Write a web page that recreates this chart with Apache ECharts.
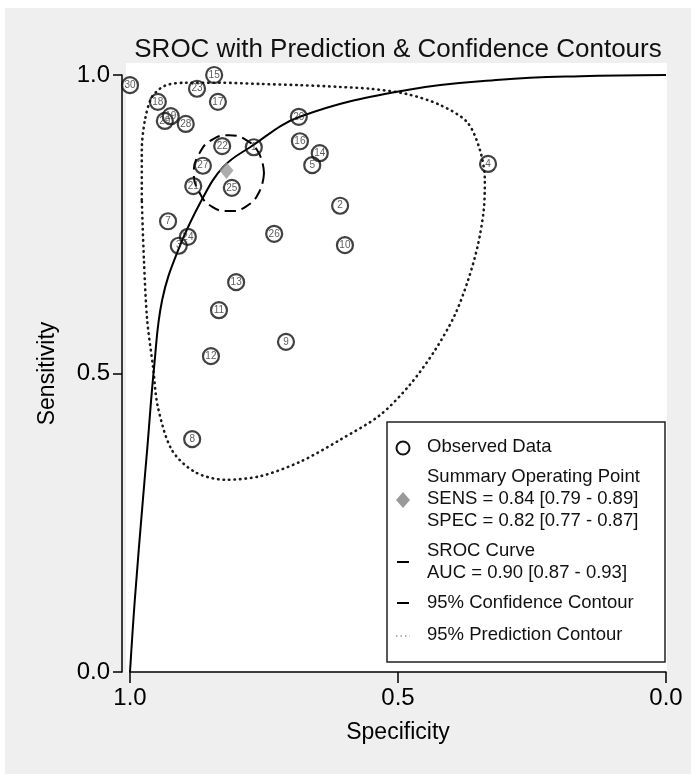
<!DOCTYPE html>
<html>
<head>
<meta charset="utf-8">
<title>SROC with Prediction & Confidence Contours</title>
<script src="https://cdn.jsdelivr.net/npm/echarts@6/dist/echarts.min.js"></script>
<style>
  html, body { margin: 0; padding: 0; background: #ffffff; }
  #chart { width: 691px; height: 774px; }
</style>
</head>
<body>
<div id="chart"></div>
<script>
// Individual studies: id, specificity, sensitivity
const studyIds  = ['30','15','23','18','17','19','29','28','20','16','22','1','14','5','4','27','21','25','2','7','26','24','10','3','13','11','9','12','8'];
const studySpec = [1.000,0.843,0.875,0.948,0.836,0.924,0.935,0.896,0.685,0.683,0.828,0.769,0.646,0.660,0.332,0.864,0.882,0.810,0.608,0.929,0.731,0.892,0.599,0.909,0.802,0.834,0.709,0.849,0.884];
const studySens = [0.983,1.000,0.977,0.955,0.955,0.931,0.923,0.918,0.930,0.889,0.881,0.879,0.869,0.849,0.851,0.848,0.814,0.811,0.781,0.755,0.734,0.729,0.715,0.714,0.653,0.606,0.553,0.529,0.390];

// Summary operating point with 95% CI
const summarySens = [0.84, 0.79, 0.89];
const summarySpec = [0.82, 0.77, 0.87];
const aucValues   = [0.90, 0.87, 0.93];

// SROC curve (specificity, sensitivity)
const srocSpec = [1.000,0.991,0.976,0.968,0.955,0.940,0.910,0.866,0.826,0.776,0.683,0.483,0.310,0.160,0.000];
const srocSens = [0.000,0.121,0.288,0.372,0.511,0.623,0.707,0.791,0.846,0.879,0.930,0.975,0.992,0.998,1.000];

// 95% confidence contour around the summary point
const confSpec = [0.750,0.759,0.783,0.815,0.848,0.871,0.881,0.871,0.848,0.815,0.783,0.759,0.750];
const confSens = [0.836,0.804,0.780,0.772,0.780,0.804,0.836,0.868,0.891,0.899,0.891,0.868,0.836];

// 95% prediction contour
const predSpec = [0.978,0.978,0.972,0.959,0.935,0.897,0.832,0.757,0.683,0.608,0.552,0.483,0.422,0.371,0.347,0.338,0.340,0.351,0.369,0.394,0.431,0.478,0.534,0.608,0.683,0.757,0.823,0.879,0.922,0.948,0.957,0.968,0.974,0.978];
const predSens = [0.791,0.874,0.925,0.963,0.982,0.987,0.987,0.985,0.983,0.980,0.977,0.968,0.950,0.921,0.874,0.824,0.774,0.715,0.657,0.598,0.539,0.481,0.430,0.389,0.352,0.328,0.322,0.335,0.372,0.444,0.511,0.590,0.690,0.791];

// Axis ticks
const tickValues = [0, 0.5, 1];

const FONT = '"Liberation Sans", Arial, Helvetica, sans-serif';
const zip = (xs, ys) => xs.map((x, i) => [x, ys[i]]);
const fmt = v => v.toFixed(2);

const chart = echarts.init(document.getElementById('chart'), null, { renderer: 'canvas' });

const legendX = 427, symX = 403;
const legendFont = { fontFamily: FONT, fontSize: 18.5, fill: '#111' };
const legendText = (text, y) => ({
  type: 'text', left: legendX, top: y - 11, z: 110,
  style: Object.assign({ text: text }, legendFont)
});

const option = {
  backgroundColor: 'transparent',
  animation: false,
  grid: { left: 130, right: 25, top: 75, bottom: 102, containLabel: false },
  xAxis: {
    type: 'value', min: 0, max: 1, interval: 0.5, inverse: true,
    axisLine: { show: true, onZero: false, lineStyle: { color: '#000', width: 1.5 } },
    axisTick: { show: true, length: 11, lineStyle: { color: '#000', width: 1.5 } },
    axisLabel: { fontSize: 24, color: '#000', fontFamily: FONT, margin: 14,
                 formatter: v => tickValues.includes(v) ? v.toFixed(1) : '' },
    splitLine: { show: false },
    name: 'Specificity', nameLocation: 'middle', nameGap: 49,
    nameTextStyle: { fontSize: 23, color: '#000', fontFamily: FONT }
  },
  yAxis: {
    type: 'value', min: 0, max: 1, interval: 0.5, offset: 8, position: 'left',
    axisLine: { show: true, onZero: false, lineStyle: { color: '#000', width: 1.5 } },
    axisTick: { show: true, length: 9, lineStyle: { color: '#000', width: 1.5 } },
    axisLabel: { fontSize: 24, color: '#000', fontFamily: FONT, margin: 12,
                 formatter: v => tickValues.includes(v) ? v.toFixed(1) : '' },
    splitLine: { show: false },
    name: 'Sensitivity', nameLocation: 'middle', nameGap: 63, nameRotate: 90,
    nameTextStyle: { fontSize: 23, color: '#000', fontFamily: FONT }
  },
  series: [
    {
      name: '95% Prediction Contour', type: 'line', data: zip(predSpec, predSens),
      showSymbol: false, smooth: 0.3, z: 3,
      lineStyle: { color: '#1a1a1a', width: 2.6, type: [0.5, 5], cap: 'round' }
    },
    {
      name: 'SROC Curve', type: 'line', data: zip(srocSpec, srocSens),
      showSymbol: false, smooth: 0.4, z: 4,
      lineStyle: { color: '#000', width: 2 }
    },
    {
      name: '95% Confidence Contour', type: 'line', data: zip(confSpec, confSens),
      showSymbol: false, smooth: 0.5, z: 4,
      lineStyle: { color: '#000', width: 2, type: [11, 6] }
    },
    {
      name: 'Observed Data', type: 'scatter', z: 5,
      data: studyIds.map((id, i) => ({ name: id, value: [studySpec[i], studySens[i]] })),
      symbol: 'circle', symbolSize: 16,
      itemStyle: { color: 'rgba(255,255,255,0)', borderColor: '#111', borderWidth: 2.2 },
      label: { show: true, position: 'inside', formatter: p => p.name,
               fontSize: 10, color: '#333', fontFamily: FONT }
    },
    {
      name: 'Summary Operating Point', type: 'scatter', z: 6,
      data: [[summarySpec[0], summarySens[0]]],
      symbol: 'diamond', symbolSize: [14, 17],
      itemStyle: { color: '#999999' }
    }
  ],
  graphic: [
    // page panel and plot region
    { type: 'rect', z: -10, shape: { x: 5, y: 8, width: 686, height: 766 }, style: { fill: '#efefef' } },
    { type: 'rect', z: -9, shape: { x: 126, y: 63, width: 541, height: 609 }, style: { fill: '#ffffff' } },
    // title
    { type: 'text', z: 10, x: 398, y: 50,
      style: { text: 'SROC with Prediction & Confidence Contours', fontFamily: FONT, fontSize: 26,
               fill: '#111', align: 'center', verticalAlign: 'middle' } },
    // legend box
    { type: 'rect', z: 100, shape: { x: 387, y: 422, width: 278, height: 240 },
      style: { fill: '#ffffff', stroke: '#222', lineWidth: 1.5 } },
    { type: 'circle', z: 110, shape: { cx: symX, cy: 448, r: 6.5 },
      style: { fill: 'rgba(0,0,0,0)', stroke: '#111', lineWidth: 2 } },
    legendText('Observed Data', 448),
    { type: 'polygon', z: 110, shape: { points: [[symX, 492], [symX + 7, 500], [symX, 508], [symX - 7, 500]] },
      style: { fill: '#999999' } },
    legendText('Summary Operating Point', 478),
    legendText('SENS = ' + fmt(summarySens[0]) + ' [' + fmt(summarySens[1]) + ' - ' + fmt(summarySens[2]) + ']', 500),
    legendText('SPEC = ' + fmt(summarySpec[0]) + ' [' + fmt(summarySpec[1]) + ' - ' + fmt(summarySpec[2]) + ']', 522),
    { type: 'line', z: 110, shape: { x1: symX - 6, y1: 562, x2: symX + 6, y2: 562 },
      style: { stroke: '#000', lineWidth: 2 } },
    legendText('SROC Curve', 552),
    legendText('AUC = ' + fmt(aucValues[0]) + ' [' + fmt(aucValues[1]) + ' - ' + fmt(aucValues[2]) + ']', 574),
    { type: 'line', z: 110, shape: { x1: symX - 6, y1: 603, x2: symX + 6, y2: 603 },
      style: { stroke: '#000', lineWidth: 2 } },
    legendText('95% Confidence Contour', 604),
    { type: 'line', z: 110, shape: { x1: symX - 7, y1: 636, x2: symX + 7, y2: 636 },
      style: { stroke: '#999', lineWidth: 1.5, lineDash: [1.5, 3] } },
    legendText('95% Prediction Contour', 636)
  ]
};

chart.setOption(option);
</script>
</body>
</html>
